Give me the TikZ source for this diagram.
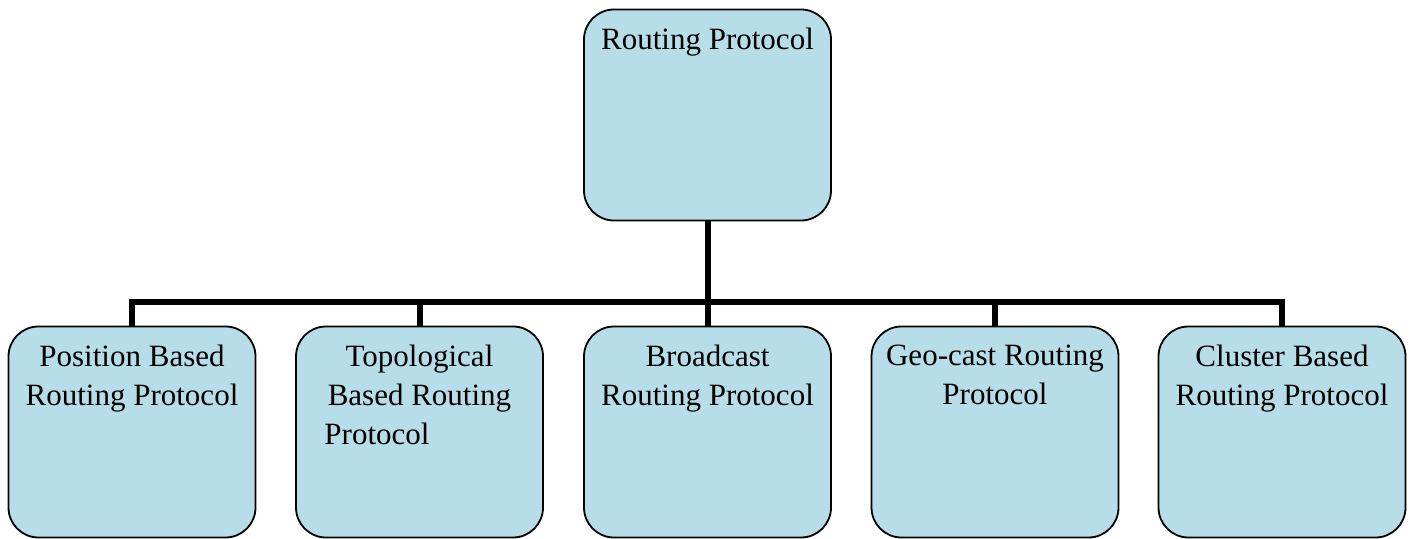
\documentclass[tikz,border=0pt]{standalone}
\usepackage{fontspec}
\setmainfont{Liberation Serif}
\usetikzlibrary{backgrounds}
\definecolor{boxfill}{HTML}{B7DEE8}
\begin{document}
\begin{tikzpicture}[x=1bp,y=-1bp,
  box/.style={draw=black, line width=1.8bp, fill=boxfill, rounded corners=30bp,
    minimum width=247bp, minimum height=211bp, inner sep=0pt},
  lbl/.style={align=center, inner sep=0pt, anchor=north,
    font=\fontsize{31bp}{39bp}\selectfont},
  conn/.style={line width=6bp, draw=black}]
\useasboundingbox (0,0) rectangle (1412,539);
\node[box] (top) at (707.5,115) {};
\node[lbl] (ttop) at (707.5,28) {Routing Protocol};
\node[box] (b1) at (132,432) {};
\node[box] (b2) at (419.5,432) {};
\node[box] (b3) at (707.5,432) {};
\node[box] (b4) at (995,432) {};
\node[box] (b5) at (1282,432) {};
\node[lbl] (t1) at (132,345) {Position Based\\Routing Protocol};
\node[lbl] (t2) at (419.5,345) {Topological\\Based Routing\\Protocol\hspace*{85bp}};
\node[lbl] (t3) at (707.5,345) {Broadcast\\Routing Protocol};
\node[lbl] (t4) at (995,345) {Geo-cast Routing\\Protocol};
\node[lbl] (t5) at (1282,345) {Cluster Based\\Routing Protocol};
\coordinate (bar) at (707.5,302);
\begin{scope}[on background layer]
\draw[conn] (top.south) -- (bar);
\foreach \b in {b1,b2,b3,b4,b5} {
  \draw[conn] (\b.north) |- (bar);
}
\end{scope}
\end{tikzpicture}
\end{document}
